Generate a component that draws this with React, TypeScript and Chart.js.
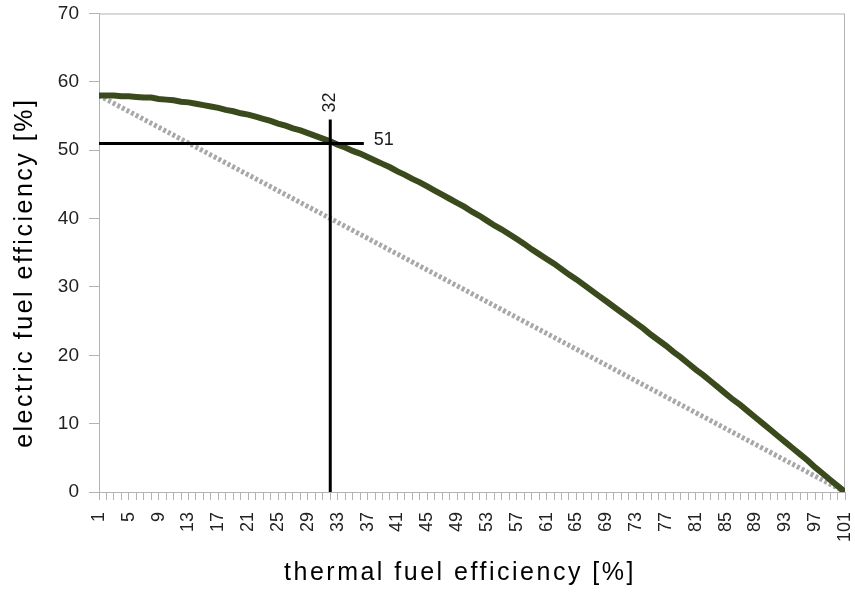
import React, { useEffect, useRef } from 'react';
import { Chart, registerables } from 'chart.js';

Chart.register(...registerables);

// ---- data ----
const THERMAL_FIRST = 1;
const THERMAL_LAST = 101;
const thermal: number[] = Array.from({ length: THERMAL_LAST - THERMAL_FIRST + 1 }, (_, i) => THERMAL_FIRST + i);

const electric: number[] = [
  58.0, 58.0, 58.0, 57.9, 57.9, 57.8, 57.7, 57.7, 57.5, 57.4,
  57.3, 57.1, 57.0, 56.8, 56.6, 56.4, 56.2, 55.9, 55.7, 55.4,
  55.2, 54.9, 54.6, 54.3, 53.9, 53.6, 53.2, 52.9, 52.5, 52.1,
  51.7, 51.3, 50.8, 50.4, 49.9, 49.5, 49.0, 48.5, 48.0, 47.5,
  46.9, 46.4, 45.8, 45.3, 44.7, 44.1, 43.5, 42.9, 42.3, 41.7,
  41.0, 40.4, 39.7, 39.0, 38.4, 37.7, 37.0, 36.3, 35.5, 34.8,
  34.1, 33.4, 32.6, 31.8, 31.1, 30.3, 29.5, 28.7, 27.9, 27.1,
  26.3, 25.5, 24.7, 23.9, 23.0, 22.2, 21.4, 20.5, 19.7, 18.8,
  17.9, 17.1, 16.2, 15.3, 14.4, 13.5, 12.7, 11.8, 10.9, 10.0,
  9.1, 8.2, 7.3, 6.4, 5.5, 4.6, 3.6, 2.7, 1.8, 0.9,
  0.0,
];

const straightX: number[] = [1, 101];
const straightY: number[] = [58, 0];

const markerThermal = 32;
const markerElectric = 51;
const hLineX: number[] = [1, 36.5];
const vLineY: number[] = [0, 54.5];

const Y_MIN = 0;
const Y_MAX = 70;
const Y_STEP = 10;
const X_LABEL_EVERY = 4;

const xTitle = 'thermal fuel efficiency [%]';
const yTitle = 'electric fuel efficiency [%]';

const FONT = '"Liberation Sans", Arial, sans-serif';

const decorPlugin = {
  id: 'decor',
  beforeDatasetsDraw(chart: any) {
    const { ctx, chartArea: a } = chart;
    ctx.save();
    ctx.strokeStyle = '#b3b3b3';
    ctx.lineWidth = 1;
    ctx.strokeRect(a.left + 0.5, a.top + 0.5, a.right - a.left - 1, a.bottom - a.top);
    ctx.restore();
  },
  afterDraw(chart: any) {
    const { ctx, chartArea: a, scales } = chart;
    const xs = scales.x;
    const ys = scales.y;
    ctx.save();
    ctx.fillStyle = '#1a1a1a';
    ctx.font = `18px ${FONT}`;
    ctx.textAlign = 'left';
    ctx.textBaseline = 'middle';
    ctx.fillText(String(markerElectric), xs.getPixelForValue(hLineX[1]) + 10, ys.getPixelForValue(markerElectric) - 3);
    ctx.save();
    ctx.translate(xs.getPixelForValue(markerThermal), ys.getPixelForValue(vLineY[1]) - 7);
    ctx.rotate(-Math.PI / 2);
    ctx.fillText(String(markerThermal), 0, 0);
    ctx.restore();

    ctx.font = `25px ${FONT}`;
    (ctx as any).letterSpacing = '2.5px';
    ctx.fillStyle = '#000';
    ctx.textAlign = 'center';
    ctx.textBaseline = 'alphabetic';
    ctx.fillText(xTitle, (a.left + a.right) / 2 - 12, chart.height - 15.5);
    ctx.translate(31.5, (a.top + a.bottom) / 2 + 20);
    ctx.rotate(-Math.PI / 2);
    ctx.fillText(yTitle, 0, 0);
    ctx.restore();
  },
};

export default function App() {
  const canvasRef = useRef<HTMLCanvasElement | null>(null);

  useEffect(() => {
    const canvas = canvasRef.current;
    if (!canvas) return;
    const chart = new Chart(canvas, {
      type: 'line',
      data: {
        datasets: [
          {
            label: 'h',
            data: hLineX.map((x) => ({ x, y: markerElectric })),
            borderColor: '#000',
            borderWidth: 3,
            pointRadius: 0,
          },
          {
            label: 'v',
            data: vLineY.map((y) => ({ x: markerThermal, y })),
            borderColor: '#000',
            borderWidth: 3,
            pointRadius: 0,
          },
          {
            label: 'electric',
            data: thermal.map((x, i) => ({ x, y: electric[i] })),
            borderColor: '#3a4a1c',
            borderWidth: 6,
            pointRadius: 0,
            tension: 0,
          },
          {
            label: 'straight',
            data: straightX.map((x, i) => ({ x, y: straightY[i] })),
            borderColor: '#a8a8a8',
            borderWidth: 5,
            borderDash: [3, 2.2],
            pointRadius: 0,
          },
        ],
      },
      options: {
        responsive: false,
        animation: false,
        layout: { padding: 0 },
        plugins: {
          legend: { display: false },
          tooltip: { enabled: false },
        },
        scales: {
          x: {
            type: 'linear',
            min: THERMAL_FIRST,
            max: THERMAL_LAST,
            afterFit: (s: any) => {
              s.height = 103;
              s.paddingLeft = 0;
              s.paddingRight = 10;
            },
            border: { display: true, color: '#b3b3b3', width: 1 },
            grid: {
              display: true,
              drawOnChartArea: false,
              drawTicks: true,
              tickLength: 8,
              color: '#b3b3b3',
            },
            ticks: {
              stepSize: 1,
              autoSkip: false,
              minRotation: 90,
              maxRotation: 90,
              padding: 12,
              color: '#222',
              font: { family: FONT, size: 18 },
              callback: (v: any) => ((Number(v) - THERMAL_FIRST) % X_LABEL_EVERY === 0 ? String(v) : ''),
            },
          },
          y: {
            type: 'linear',
            min: Y_MIN,
            max: Y_MAX,
            afterFit: (s: any) => {
              s.width = 99;
              s.paddingTop = 13.5;
              s.paddingBottom = 0;
            },
            border: { display: true, color: '#b3b3b3', width: 1 },
            grid: {
              display: true,
              drawOnChartArea: false,
              drawTicks: true,
              tickLength: 10,
              color: '#b3b3b3',
            },
            ticks: {
              stepSize: Y_STEP,
              padding: 10,
              color: '#222',
              font: { family: FONT, size: 19 },
            },
          },
        },
      },
      plugins: [decorPlugin],
    });
    return () => chart.destroy();
  }, []);

  return (
    <div style={{ position: 'absolute', left: 0, top: 0, width: 855, height: 595, background: '#fff' }}>
      <canvas ref={canvasRef} width={855} height={595} style={{ display: 'block' }} />
    </div>
  );
}
